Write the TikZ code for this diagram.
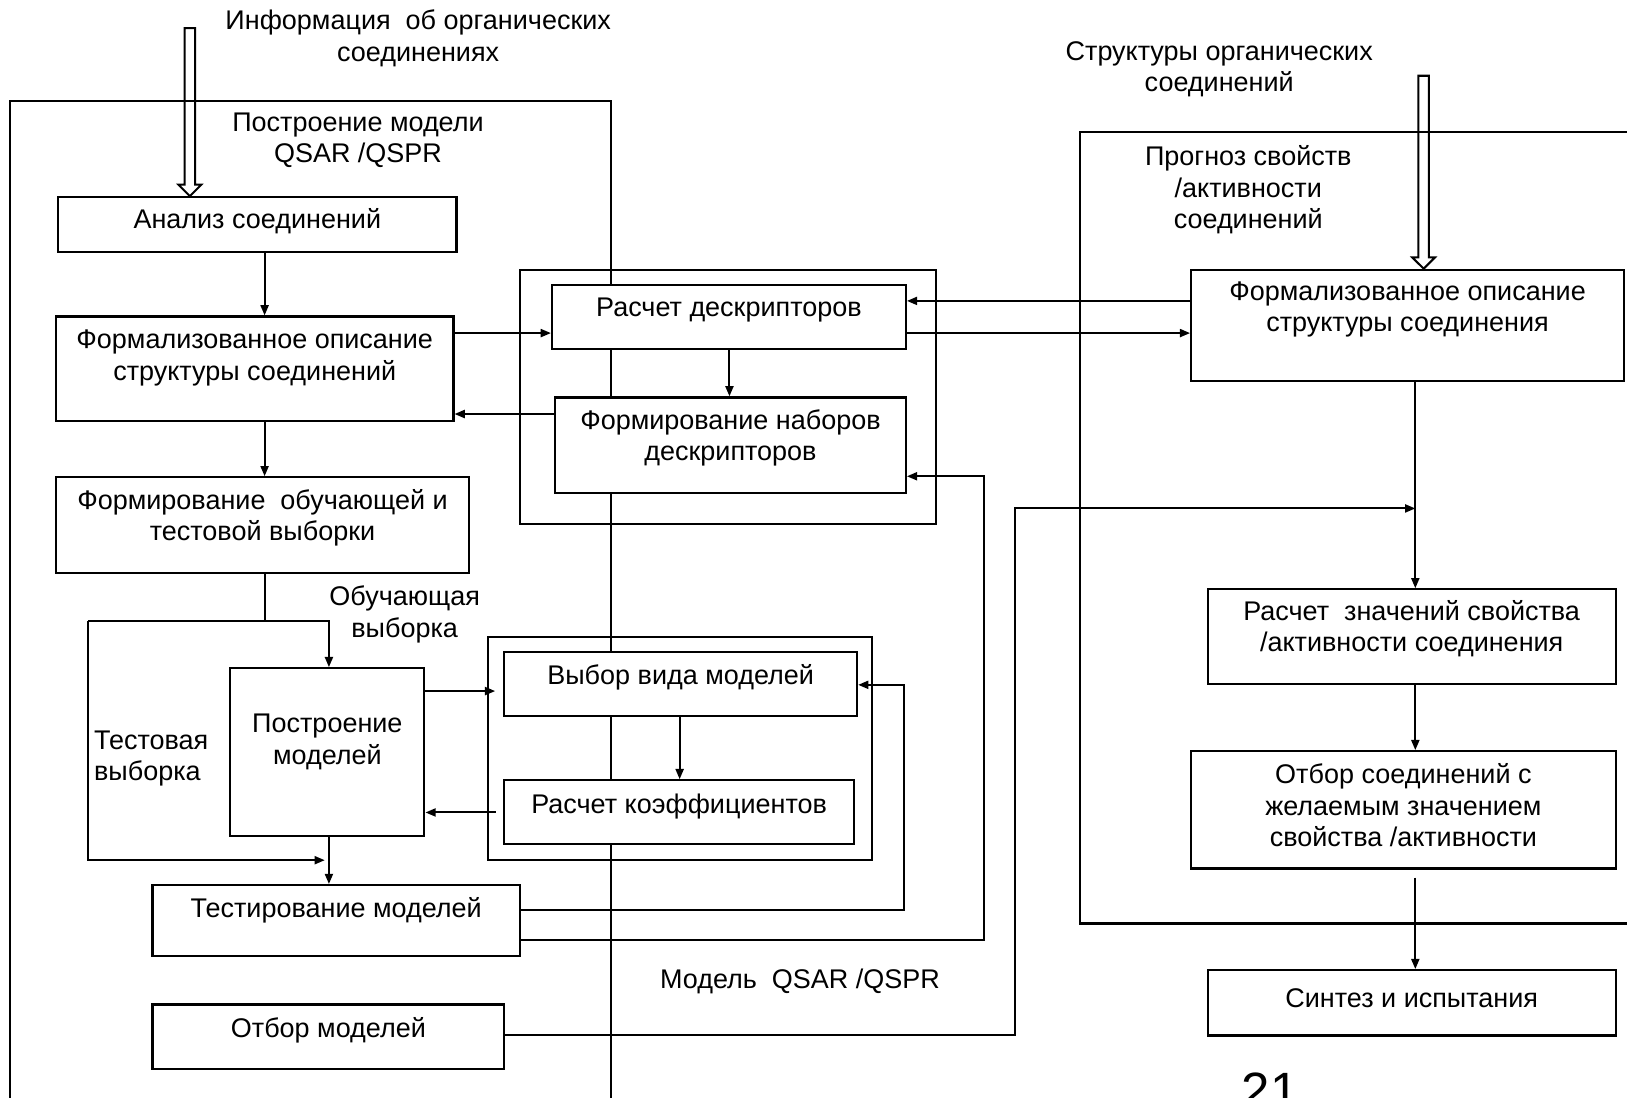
\documentclass[tikz,border=0pt]{standalone}
\usepackage{fontspec}
\setmainfont{Liberation Sans}
\usetikzlibrary{arrows.meta,fit}

\begin{document}
\begin{tikzpicture}[
  x=0.1mm,y=-0.1mm,
  every node/.style={font=\fontsize{7.4}{8.6}\selectfont},
  box/.style={draw,fill=white,line width=0.6pt,inner sep=0pt},
  grp/.style={draw,line width=0.6pt,inner sep=0pt},
  txt/.style={align=center,inner sep=0pt},
  frm/.style={line width=0.55pt},
  arr/.style={-{Triangle[length=2.8pt,width=2.2pt]},line width=0.55pt},
  hollow/.style={line width=0.55pt,line join=miter}
]
  \clip (0,0) rectangle (1568,1058);
  % frames of the two stages
  \draw[frm] (10,1070) |- (589,97) -- (589,1070);
  \draw[frm] (1580,127) -| (1041,890) -- (1580,890);
  \node[grp,fit={(501,260) (902,505)}] (g1) {};
  \node[grp,fit={(470,614) (840,829)}] (g2) {};
  % boxes
  \foreach \n/\l/\t/\r/\b/\ty/\txt in {
    an/56/190/440/243/213/{Анализ соединений},
    fs/54/305/437/406/345/{Формализованное описание\\структуры соединений},
    fo/54/460/452/552/499/{Формирование\ \ обучающей и\\тестовой выборки},
    pm/222/644/409/806/715/{Построение\\моделей},
    tm/147/853/501/921/877/{Тестирование моделей},
    om/147/968/486/1030/993/{Отбор моделей},
    rd/532/275/873/336/299/{Расчет дескрипторов},
    fn/535/383/873/475/422/{Формирование наборов\\дескрипторов},
    vv/486/628/826/690/653/{Выбор вида моделей},
    rk/486/752/823/813/777/{Расчет коэффициентов},
    fr/1148/260/1565/367/298/{Формализованное описание\\структуры соединения},
    rz/1164/568/1557/659/606/{Расчет\ \ значений свойства\\/активности соединения},
    os/1148/724/1557/837/776/{Отбор соединений с\\желаемым значением\\свойства /активности},
    si/1164/935/1557/998/962/{Синтез и испытания}} {
    \node[box,fit={(\l,\t) (\r,\b)}] (\n) {};
    \node[txt] (\n-t) at ({(\l+\r)/2},\ty) {\txt};
  }
  % inputs
  \coordinate (in1) at (183,27);
  \coordinate (h1) at (183,178);
  \draw[hollow] (an.north -| in1) -- ([xshift=-1.1mm]h1) -- ([xshift=-0.5mm]h1) -- ([xshift=-0.5mm]in1)
    -- ([xshift=0.5mm]in1) -- ([xshift=0.5mm]h1) -- ([xshift=1.1mm]h1) -- cycle;
  \coordinate (in2) at (1372,73);
  \coordinate (h2) at (1372,248);
  \draw[hollow] (fr.north -| in2) -- ([xshift=-1.1mm]h2) -- ([xshift=-0.5mm]h2) -- ([xshift=-0.5mm]in2)
    -- ([xshift=0.5mm]in2) -- ([xshift=0.5mm]h2) -- ([xshift=1.1mm]h2) -- cycle;
  % model building
  \draw[arr] (an.south -| 255,0) -- (fs.north -| 255,0);
  \draw[arr] (fs.east |- 0,321) -- (rd.west |- 0,321);
  \draw[arr] (fn.west |- 0,399) -- (fs.east |- 0,399);
  \draw[arr] (fs.south -| 255,0) -- (fo.north -| 255,0);
  \draw[arr] (rd.south -| 703,0) -- (fn.north -| 703,0);
  \coordinate (sp) at (255,598);
  \coordinate (tl) at (85,598);
  \coordinate (tr) at (317,598);
  \coordinate (tb) at (313,829);
  \draw[frm] (fo.south -| sp) -- (sp);
  \draw[arr] (tl) -- (tr) -- (pm.north -| tr);
  \draw[arr] (tl) |- (tb);
  \draw[arr] (pm.south -| tr) -- (tm.north -| tr);
  \draw[arr,shorten >=2.2pt] (pm.east |- 0,666) -- (vv.west |- 0,666);
  \draw[arr,shorten <=2pt] (rk.west |- 0,783) -- (pm.east |- 0,783);
  \draw[arr] (vv.south -| 655,0) -- (rk.north -| 655,0);
  \draw[arr] (tm.east |- 0,877) -| (871,660) -- (vv.east |- 0,660);
  \draw[arr] (tm.east |- 0,906) -| (948,459) -- (fn.east |- 0,459);
  % prediction
  \coordinate (jn) at (1364,490);
  \draw[arr] (om.east |- 0,997) -| (978,490) -- (jn);
  \draw[arr] (fr.west |- 0,290) -- (rd.east |- 0,290);
  \draw[arr] (rd.east |- 0,321) -- (fr.west |- 0,321);
  \draw[arr] (fr.south -| 1364,0) -- (rz.north -| 1364,0);
  \draw[arr] (rz.south -| 1364,0) -- (os.north -| 1364,0);
  \draw[arr,shorten <=2.2pt] (os.south -| 1364,0) -- (si.north -| 1364,0);
  % labels
  \node[txt] (info) at (403,37) {Информация\ \ об органических\\соединениях};
  \node[txt] (build) at (345,135) {Построение модели\\QSAR /QSPR};
  \node[txt] (struct) at (1175,67) {Структуры органических\\соединений};
  \node[txt] (prog) at (1203,183) {Прогноз свойств\\/активности\\соединений};
  \node[txt] (train) at (390,592) {Обучающая\\выборка};
  \node[txt,align=left,anchor=west] (test) at (90,731) {Тестовая\\выборка};
  \node[txt] (model) at (771,946) {Модель\ \ QSAR /QSPR};
  \node[anchor=base,font=\fontsize{14}{16}\selectfont] (page) at (1224,1068) {21};
\end{tikzpicture}
\end{document}
